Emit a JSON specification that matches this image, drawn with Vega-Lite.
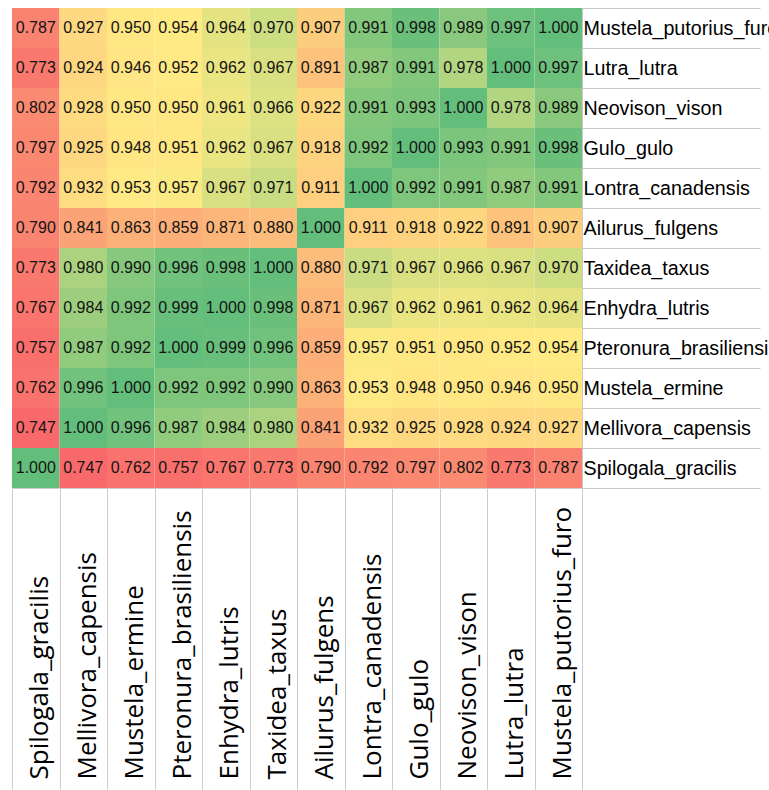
{
  "$schema": "https://vega.github.io/schema/vega-lite/v6.json",
  "width": 570,
  "height": 480,
  "autosize": {"type": "none"},
  "padding": {"left": 12, "top": 8, "right": 187, "bottom": 302},
  "background": "white",
  "config": {"view": {"stroke": null}},
  "data": {"values": [
    {"row":"Mustela_putorius_furo","col":"Spilogala_gracilis","value":0.787},
    {"row":"Mustela_putorius_furo","col":"Mellivora_capensis","value":0.927},
    {"row":"Mustela_putorius_furo","col":"Mustela_ermine","value":0.950},
    {"row":"Mustela_putorius_furo","col":"Pteronura_brasiliensis","value":0.954},
    {"row":"Mustela_putorius_furo","col":"Enhydra_lutris","value":0.964},
    {"row":"Mustela_putorius_furo","col":"Taxidea_taxus","value":0.970},
    {"row":"Mustela_putorius_furo","col":"Ailurus_fulgens","value":0.907},
    {"row":"Mustela_putorius_furo","col":"Lontra_canadensis","value":0.991},
    {"row":"Mustela_putorius_furo","col":"Gulo_gulo","value":0.998},
    {"row":"Mustela_putorius_furo","col":"Neovison_vison","value":0.989},
    {"row":"Mustela_putorius_furo","col":"Lutra_lutra","value":0.997},
    {"row":"Mustela_putorius_furo","col":"Mustela_putorius_furo","value":1.000},
    {"row":"Lutra_lutra","col":"Spilogala_gracilis","value":0.773},
    {"row":"Lutra_lutra","col":"Mellivora_capensis","value":0.924},
    {"row":"Lutra_lutra","col":"Mustela_ermine","value":0.946},
    {"row":"Lutra_lutra","col":"Pteronura_brasiliensis","value":0.952},
    {"row":"Lutra_lutra","col":"Enhydra_lutris","value":0.962},
    {"row":"Lutra_lutra","col":"Taxidea_taxus","value":0.967},
    {"row":"Lutra_lutra","col":"Ailurus_fulgens","value":0.891},
    {"row":"Lutra_lutra","col":"Lontra_canadensis","value":0.987},
    {"row":"Lutra_lutra","col":"Gulo_gulo","value":0.991},
    {"row":"Lutra_lutra","col":"Neovison_vison","value":0.978},
    {"row":"Lutra_lutra","col":"Lutra_lutra","value":1.000},
    {"row":"Lutra_lutra","col":"Mustela_putorius_furo","value":0.997},
    {"row":"Neovison_vison","col":"Spilogala_gracilis","value":0.802},
    {"row":"Neovison_vison","col":"Mellivora_capensis","value":0.928},
    {"row":"Neovison_vison","col":"Mustela_ermine","value":0.950},
    {"row":"Neovison_vison","col":"Pteronura_brasiliensis","value":0.950},
    {"row":"Neovison_vison","col":"Enhydra_lutris","value":0.961},
    {"row":"Neovison_vison","col":"Taxidea_taxus","value":0.966},
    {"row":"Neovison_vison","col":"Ailurus_fulgens","value":0.922},
    {"row":"Neovison_vison","col":"Lontra_canadensis","value":0.991},
    {"row":"Neovison_vison","col":"Gulo_gulo","value":0.993},
    {"row":"Neovison_vison","col":"Neovison_vison","value":1.000},
    {"row":"Neovison_vison","col":"Lutra_lutra","value":0.978},
    {"row":"Neovison_vison","col":"Mustela_putorius_furo","value":0.989},
    {"row":"Gulo_gulo","col":"Spilogala_gracilis","value":0.797},
    {"row":"Gulo_gulo","col":"Mellivora_capensis","value":0.925},
    {"row":"Gulo_gulo","col":"Mustela_ermine","value":0.948},
    {"row":"Gulo_gulo","col":"Pteronura_brasiliensis","value":0.951},
    {"row":"Gulo_gulo","col":"Enhydra_lutris","value":0.962},
    {"row":"Gulo_gulo","col":"Taxidea_taxus","value":0.967},
    {"row":"Gulo_gulo","col":"Ailurus_fulgens","value":0.918},
    {"row":"Gulo_gulo","col":"Lontra_canadensis","value":0.992},
    {"row":"Gulo_gulo","col":"Gulo_gulo","value":1.000},
    {"row":"Gulo_gulo","col":"Neovison_vison","value":0.993},
    {"row":"Gulo_gulo","col":"Lutra_lutra","value":0.991},
    {"row":"Gulo_gulo","col":"Mustela_putorius_furo","value":0.998},
    {"row":"Lontra_canadensis","col":"Spilogala_gracilis","value":0.792},
    {"row":"Lontra_canadensis","col":"Mellivora_capensis","value":0.932},
    {"row":"Lontra_canadensis","col":"Mustela_ermine","value":0.953},
    {"row":"Lontra_canadensis","col":"Pteronura_brasiliensis","value":0.957},
    {"row":"Lontra_canadensis","col":"Enhydra_lutris","value":0.967},
    {"row":"Lontra_canadensis","col":"Taxidea_taxus","value":0.971},
    {"row":"Lontra_canadensis","col":"Ailurus_fulgens","value":0.911},
    {"row":"Lontra_canadensis","col":"Lontra_canadensis","value":1.000},
    {"row":"Lontra_canadensis","col":"Gulo_gulo","value":0.992},
    {"row":"Lontra_canadensis","col":"Neovison_vison","value":0.991},
    {"row":"Lontra_canadensis","col":"Lutra_lutra","value":0.987},
    {"row":"Lontra_canadensis","col":"Mustela_putorius_furo","value":0.991},
    {"row":"Ailurus_fulgens","col":"Spilogala_gracilis","value":0.790},
    {"row":"Ailurus_fulgens","col":"Mellivora_capensis","value":0.841},
    {"row":"Ailurus_fulgens","col":"Mustela_ermine","value":0.863},
    {"row":"Ailurus_fulgens","col":"Pteronura_brasiliensis","value":0.859},
    {"row":"Ailurus_fulgens","col":"Enhydra_lutris","value":0.871},
    {"row":"Ailurus_fulgens","col":"Taxidea_taxus","value":0.880},
    {"row":"Ailurus_fulgens","col":"Ailurus_fulgens","value":1.000},
    {"row":"Ailurus_fulgens","col":"Lontra_canadensis","value":0.911},
    {"row":"Ailurus_fulgens","col":"Gulo_gulo","value":0.918},
    {"row":"Ailurus_fulgens","col":"Neovison_vison","value":0.922},
    {"row":"Ailurus_fulgens","col":"Lutra_lutra","value":0.891},
    {"row":"Ailurus_fulgens","col":"Mustela_putorius_furo","value":0.907},
    {"row":"Taxidea_taxus","col":"Spilogala_gracilis","value":0.773},
    {"row":"Taxidea_taxus","col":"Mellivora_capensis","value":0.980},
    {"row":"Taxidea_taxus","col":"Mustela_ermine","value":0.990},
    {"row":"Taxidea_taxus","col":"Pteronura_brasiliensis","value":0.996},
    {"row":"Taxidea_taxus","col":"Enhydra_lutris","value":0.998},
    {"row":"Taxidea_taxus","col":"Taxidea_taxus","value":1.000},
    {"row":"Taxidea_taxus","col":"Ailurus_fulgens","value":0.880},
    {"row":"Taxidea_taxus","col":"Lontra_canadensis","value":0.971},
    {"row":"Taxidea_taxus","col":"Gulo_gulo","value":0.967},
    {"row":"Taxidea_taxus","col":"Neovison_vison","value":0.966},
    {"row":"Taxidea_taxus","col":"Lutra_lutra","value":0.967},
    {"row":"Taxidea_taxus","col":"Mustela_putorius_furo","value":0.970},
    {"row":"Enhydra_lutris","col":"Spilogala_gracilis","value":0.767},
    {"row":"Enhydra_lutris","col":"Mellivora_capensis","value":0.984},
    {"row":"Enhydra_lutris","col":"Mustela_ermine","value":0.992},
    {"row":"Enhydra_lutris","col":"Pteronura_brasiliensis","value":0.999},
    {"row":"Enhydra_lutris","col":"Enhydra_lutris","value":1.000},
    {"row":"Enhydra_lutris","col":"Taxidea_taxus","value":0.998},
    {"row":"Enhydra_lutris","col":"Ailurus_fulgens","value":0.871},
    {"row":"Enhydra_lutris","col":"Lontra_canadensis","value":0.967},
    {"row":"Enhydra_lutris","col":"Gulo_gulo","value":0.962},
    {"row":"Enhydra_lutris","col":"Neovison_vison","value":0.961},
    {"row":"Enhydra_lutris","col":"Lutra_lutra","value":0.962},
    {"row":"Enhydra_lutris","col":"Mustela_putorius_furo","value":0.964},
    {"row":"Pteronura_brasiliensis","col":"Spilogala_gracilis","value":0.757},
    {"row":"Pteronura_brasiliensis","col":"Mellivora_capensis","value":0.987},
    {"row":"Pteronura_brasiliensis","col":"Mustela_ermine","value":0.992},
    {"row":"Pteronura_brasiliensis","col":"Pteronura_brasiliensis","value":1.000},
    {"row":"Pteronura_brasiliensis","col":"Enhydra_lutris","value":0.999},
    {"row":"Pteronura_brasiliensis","col":"Taxidea_taxus","value":0.996},
    {"row":"Pteronura_brasiliensis","col":"Ailurus_fulgens","value":0.859},
    {"row":"Pteronura_brasiliensis","col":"Lontra_canadensis","value":0.957},
    {"row":"Pteronura_brasiliensis","col":"Gulo_gulo","value":0.951},
    {"row":"Pteronura_brasiliensis","col":"Neovison_vison","value":0.950},
    {"row":"Pteronura_brasiliensis","col":"Lutra_lutra","value":0.952},
    {"row":"Pteronura_brasiliensis","col":"Mustela_putorius_furo","value":0.954},
    {"row":"Mustela_ermine","col":"Spilogala_gracilis","value":0.762},
    {"row":"Mustela_ermine","col":"Mellivora_capensis","value":0.996},
    {"row":"Mustela_ermine","col":"Mustela_ermine","value":1.000},
    {"row":"Mustela_ermine","col":"Pteronura_brasiliensis","value":0.992},
    {"row":"Mustela_ermine","col":"Enhydra_lutris","value":0.992},
    {"row":"Mustela_ermine","col":"Taxidea_taxus","value":0.990},
    {"row":"Mustela_ermine","col":"Ailurus_fulgens","value":0.863},
    {"row":"Mustela_ermine","col":"Lontra_canadensis","value":0.953},
    {"row":"Mustela_ermine","col":"Gulo_gulo","value":0.948},
    {"row":"Mustela_ermine","col":"Neovison_vison","value":0.950},
    {"row":"Mustela_ermine","col":"Lutra_lutra","value":0.946},
    {"row":"Mustela_ermine","col":"Mustela_putorius_furo","value":0.950},
    {"row":"Mellivora_capensis","col":"Spilogala_gracilis","value":0.747},
    {"row":"Mellivora_capensis","col":"Mellivora_capensis","value":1.000},
    {"row":"Mellivora_capensis","col":"Mustela_ermine","value":0.996},
    {"row":"Mellivora_capensis","col":"Pteronura_brasiliensis","value":0.987},
    {"row":"Mellivora_capensis","col":"Enhydra_lutris","value":0.984},
    {"row":"Mellivora_capensis","col":"Taxidea_taxus","value":0.980},
    {"row":"Mellivora_capensis","col":"Ailurus_fulgens","value":0.841},
    {"row":"Mellivora_capensis","col":"Lontra_canadensis","value":0.932},
    {"row":"Mellivora_capensis","col":"Gulo_gulo","value":0.925},
    {"row":"Mellivora_capensis","col":"Neovison_vison","value":0.928},
    {"row":"Mellivora_capensis","col":"Lutra_lutra","value":0.924},
    {"row":"Mellivora_capensis","col":"Mustela_putorius_furo","value":0.927},
    {"row":"Spilogala_gracilis","col":"Spilogala_gracilis","value":1.000},
    {"row":"Spilogala_gracilis","col":"Mellivora_capensis","value":0.747},
    {"row":"Spilogala_gracilis","col":"Mustela_ermine","value":0.762},
    {"row":"Spilogala_gracilis","col":"Pteronura_brasiliensis","value":0.757},
    {"row":"Spilogala_gracilis","col":"Enhydra_lutris","value":0.767},
    {"row":"Spilogala_gracilis","col":"Taxidea_taxus","value":0.773},
    {"row":"Spilogala_gracilis","col":"Ailurus_fulgens","value":0.790},
    {"row":"Spilogala_gracilis","col":"Lontra_canadensis","value":0.792},
    {"row":"Spilogala_gracilis","col":"Gulo_gulo","value":0.797},
    {"row":"Spilogala_gracilis","col":"Neovison_vison","value":0.802},
    {"row":"Spilogala_gracilis","col":"Lutra_lutra","value":0.773},
    {"row":"Spilogala_gracilis","col":"Mustela_putorius_furo","value":0.787}
  ]},
  "encoding": {
    "x": {
      "field": "col", "type": "nominal",
      "sort": ["Spilogala_gracilis","Mellivora_capensis","Mustela_ermine","Pteronura_brasiliensis","Enhydra_lutris","Taxidea_taxus","Ailurus_fulgens","Lontra_canadensis","Gulo_gulo","Neovison_vison","Lutra_lutra","Mustela_putorius_furo"],
      "scale": {"paddingInner": 0, "paddingOuter": 0},
      "axis": {
        "orient": "bottom", "title": null,
        "labelAngle": -90, "labelAlign": "left", "labelBaseline": "middle",
        "labelFont": "Open Sans", "labelFontSize": 26, "labelColor": "#000000",
        "labelPadding": -11, "labelOffset": 4, "labelLimit": 0, "labelOverlap": false,
        "tickBand": "extent", "tickSize": 302, "tickColor": "#cccccc", "tickWidth": 1,
        "domainColor": "#cccccc", "domainWidth": 1
      }
    },
    "y": {
      "field": "row", "type": "nominal",
      "sort": ["Mustela_putorius_furo","Lutra_lutra","Neovison_vison","Gulo_gulo","Lontra_canadensis","Ailurus_fulgens","Taxidea_taxus","Enhydra_lutris","Pteronura_brasiliensis","Mustela_ermine","Mellivora_capensis","Spilogala_gracilis"],
      "scale": {"paddingInner": 0, "paddingOuter": 0},
      "axis": {
        "orient": "right", "title": null,
        "labelAlign": "left", "labelBaseline": "middle",
        "labelFont": "Liberation Sans", "labelFontSize": 19.7, "labelColor": "#000000",
        "labelPadding": -177, "labelLimit": 0, "labelOverlap": false,
        "tickBand": "extent", "tickSize": 178, "tickColor": "#c8c8c8", "tickWidth": 1,
        "domainColor": "#c8c8c8", "domainWidth": 1
      }
    }
  },
  "layer": [
    {
      "mark": {"type": "rect"},
      "encoding": {
        "color": {
          "field": "value", "type": "quantitative",
          "scale": {"domain": [0.747, 0.956, 1.0], "range": ["#F8696B", "#FFEB84", "#63BE7B"], "interpolate": "rgb"},
          "legend": null
        }
      }
    },
    {
      "mark": {"type": "text", "font": "Liberation Sans", "fontSize": 16, "color": "#141414"},
      "encoding": {
        "text": {"field": "value", "type": "quantitative", "format": ".3f"}
      }
    }
  ]
}
